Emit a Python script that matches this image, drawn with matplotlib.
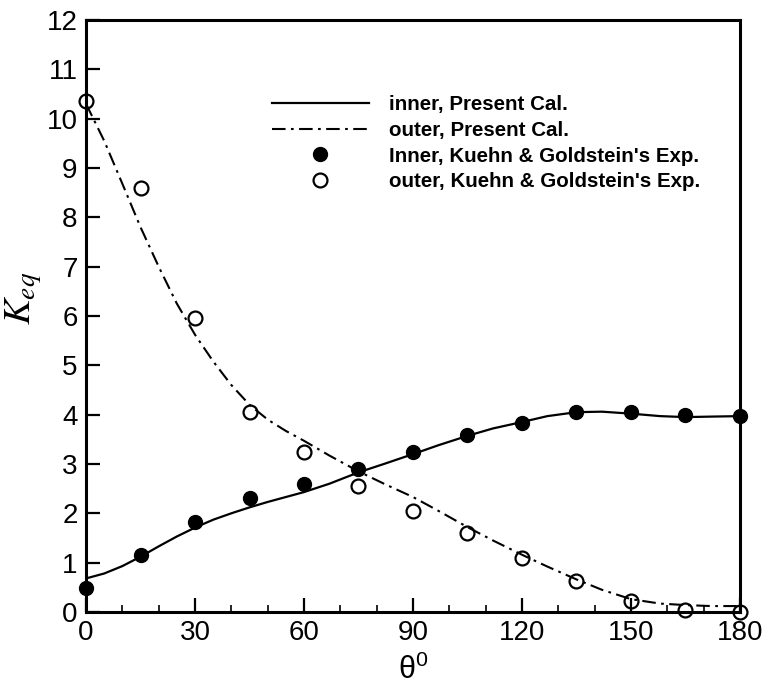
import numpy as np
import matplotlib
matplotlib.use('Agg')
import matplotlib.pyplot as plt
from matplotlib.ticker import MultipleLocator

# experimental points (Kuehn & Goldstein)
theta_exp = [0, 15, 30, 45, 60, 75, 90, 105, 120, 135, 150, 165, 180]
inner_exp = [0.49, 1.16, 1.82, 2.31, 2.6, 2.9, 3.24, 3.59, 3.83, 4.05, 4.05, 4.0, 3.97]
outer_exp = [10.35, 8.6, 5.95, 4.05, 3.25, 2.55, 2.05, 1.6, 1.1, 0.62, 0.22, 0.05, 0.0]

# present calculation
theta_cal = [0, 5, 10, 15, 20, 25, 30, 35, 40, 45, 50, 55, 60, 67, 75, 82, 90, 97,
             105, 112, 120, 127, 135, 142, 150, 158, 165, 172, 180]
inner_cal = [0.68, 0.78, 0.93, 1.12, 1.33, 1.53, 1.71, 1.87, 2.0, 2.12, 2.23, 2.33,
             2.43, 2.6, 2.83, 3.0, 3.2, 3.38, 3.57, 3.72, 3.85, 3.97, 4.05, 4.06,
             4.02, 3.97, 3.95, 3.96, 3.97]
outer_cal = [10.3, 9.55, 8.68, 7.8, 7.0, 6.25, 5.62, 5.08, 4.6, 4.2, 3.9, 3.67,
             3.47, 3.17, 2.85, 2.6, 2.33, 2.05, 1.72, 1.45, 1.16, 0.92, 0.66, 0.45,
             0.26, 0.17, 0.14, 0.12, 0.12]

plt.rcParams['font.family'] = ['Liberation Sans', 'DejaVu Sans']
plt.rcParams['mathtext.fontset'] = 'stix'

fig = plt.figure(figsize=(7.66, 6.88), dpi=100)
ax = fig.add_axes([0.1123, 0.1105, 0.8537, 0.8605])

ax.plot(theta_cal, inner_cal, '-', color='k', lw=1.6, label='inner, Present Cal.')
ax.plot(theta_cal, outer_cal, color='k', lw=1.5, linestyle=(0, (6.5, 2.6, 1.3, 2.6)),
        label='outer, Present Cal.')
ax.plot(theta_exp, inner_exp, 'o', color='k', ms=10, clip_on=False,
        label="Inner, Kuehn & Goldstein's Exp.")
ax.plot(theta_exp, outer_exp, 'o', mfc='none', mec='k', mew=1.6, ms=10, clip_on=False,
        label="outer, Kuehn & Goldstein's Exp.")

ax.set_xlim(0, 180)
ax.set_ylim(0, 12)
ax.xaxis.set_major_locator(MultipleLocator(30))
ax.xaxis.set_minor_locator(MultipleLocator(10))
ax.yaxis.set_major_locator(MultipleLocator(1))
ax.tick_params(which='major', direction='in', length=10, width=1.6, labelsize=20)
ax.tick_params(axis='x', which='major', pad=6)
ax.tick_params(axis='y', which='major', pad=6)
ax.tick_params(which='minor', direction='in', length=5, width=1.2)
ax.tick_params(top=False, right=False)
for s in ax.spines.values():
    s.set_linewidth(2.2)

ax.set_xlabel(r'$\mathregular{\theta^0}$', fontsize=22, labelpad=6)
ax.set_ylabel(r'$K_{eq}$', fontsize=28)
ax.yaxis.set_label_coords(-0.064, 0.53)

ax.legend(loc='upper left', bbox_to_anchor=(272 / 766, 1 - 95 / 688),
          bbox_transform=fig.transFigure, frameon=False, borderpad=0, borderaxespad=0,
          handlelength=4.7, handletextpad=1.0, labelspacing=0.33,
          prop={'weight': 'bold', 'size': 14.8})

fig.savefig('out.png', dpi=100)
